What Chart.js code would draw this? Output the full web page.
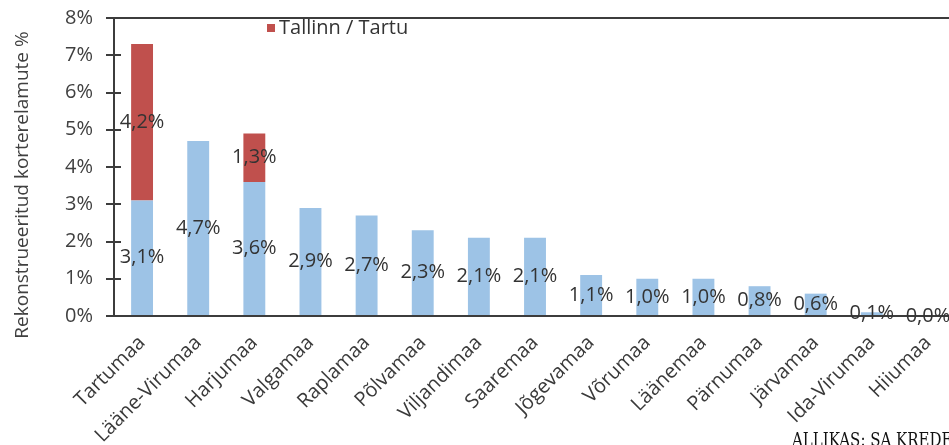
<!DOCTYPE html>
<html>
<head>
<meta charset="utf-8">
<script src="https://cdn.jsdelivr.net/npm/chart.js@4.4.1/dist/chart.umd.min.js"></script>
<style>
  html, body { margin: 0; padding: 0; background: #fff; overflow: hidden; }
  #wrap { position: relative; width: 949px; height: 445px; overflow: hidden; }
  #myChart { position: absolute; left: 0; top: 0; }
  #source { position: absolute; left: 792px; top: 431px; font: 15px/1 "DejaVu Serif", serif; color: #111;
            white-space: nowrap; transform: scaleY(1.25); transform-origin: 0 0; }
</style>
</head>
<body>
<div id="wrap">
  <canvas id="myChart" width="960" height="445"></canvas>
  <div id="source">ALLIKAS: SA KREDEX</div>
</div>
<script>
const counties = ['Tartumaa', 'Lääne-Virumaa', 'Harjumaa', 'Valgamaa', 'Raplamaa', 'Põlvamaa', 'Viljandimaa',
  'Saaremaa', 'Jõgevamaa', 'Võrumaa', 'Läänemaa', 'Pärnumaa', 'Järvamaa', 'Ida-Virumaa', 'Hiiumaa'];
const countyShare = [3.1, 4.7, 3.6, 2.9, 2.7, 2.3, 2.1, 2.1, 1.1, 1.0, 1.0, 0.8, 0.6, 0.1, 0.0];
const cityShare = [4.2, 0, 1.3, 0, 0, 0, 0, 0, 0, 0, 0, 0, 0, 0, 0];
const yTicks = [0, 1, 2, 3, 4, 5, 6, 7, 8];

const FONT = '"Open Sans", sans-serif';
const AXIS = '#3c3c3c';

const fmt = v => v.toFixed(1).replace('.', ',') + '%';

// frame lines, inner tick marks, legend, y title and value labels
const decorations = {
    id: 'decorations',
    afterDraw(chart) {
        const c = chart.ctx;
        const area = chart.chartArea;
        const yScale = chart.scales.y;
        const right = chart.width;

        c.save();
        c.fillStyle = AXIS;
        // top frame and base line, both poking out left like the ticks
        c.fillRect(area.left - 8, Math.round(area.top) - 1, right - area.left + 8, 2);
        c.fillRect(area.left - 8, Math.round(area.bottom) - 1, right - area.left + 8, 2);
        // the part of each tick inside the plot
        for (const v of yTicks) {
            const py = Math.round(yScale.getPixelForValue(v));
            c.fillRect(area.left, py - 1, 7, 2);
        }

        // legend (city series only)
        const ds = chart.data.datasets[1];
        c.fillStyle = ds.backgroundColor;
        c.fillRect(267, 24, 8, 8);
        c.fillStyle = '#333';
        c.font = '20px ' + FONT;
        c.textAlign = 'left';
        c.textBaseline = 'middle';
        c.fillText(ds.label, 279, 28);

        // y title
        c.save();
        c.translate(23, 185);
        c.rotate(-Math.PI / 2);
        c.textAlign = 'center';
        c.fillStyle = '#404040';
        c.font = '19px ' + FONT;
        c.fillText('Rekonstrueeritud korterelamute %', 0, 0);
        c.restore();

        // value labels
        c.font = '20px ' + FONT;
        c.textAlign = 'center';
        c.fillStyle = '#333';
        chart.data.datasets.forEach((d, i) => {
            chart.getDatasetMeta(i).data.forEach((bar, j) => {
                const v = d.data[j];
                if (i === 1 && !v) return;
                c.fillText(fmt(v), bar.x, (bar.y + bar.base) / 2);
            });
        });
        c.restore();
    }
};

const data = {
    labels: counties,
    datasets: [
        {
            label: 'Maakond',
            data: countyShare,
            backgroundColor: '#9dc3e6',
            barPercentage: 0.39,
            categoryPercentage: 1
        },
        {
            label: 'Tallinn / Tartu',
            data: cityShare,
            backgroundColor: '#c0504d',
            barPercentage: 0.39,
            categoryPercentage: 1
        }
    ]
};

const config = {
    type: 'bar',
    data,
    options: {
        responsive: false,
        animation: false,
        layout: { padding: { top: 18, right: 2, left: 0, bottom: 0 } },
        plugins: {
            legend: { display: false },
            tooltip: { enabled: false }
        },
        scales: {
            x: {
                stacked: true,
                grid: { display: false, drawTicks: false },
                border: { display: false },
                ticks: {
                    minRotation: 45,
                    maxRotation: 45,
                    autoSkip: false,
                    padding: 15,
                    color: '#3a3a3a',
                    font: { family: FONT, size: 20 }
                },
                afterFit(scale) { scale.height = 129; }
            },
            y: {
                stacked: true,
                min: 0,
                max: 8,
                grid: {
                    display: true,
                    drawOnChartArea: false,
                    drawTicks: true,
                    tickLength: 8,
                    color: AXIS,
                    lineWidth: 2
                },
                border: { display: true, color: AXIS, width: 2 },
                ticks: {
                    stepSize: 1,
                    padding: 13,
                    color: '#404040',
                    font: { family: FONT, size: 20 },
                    callback: v => v + '%'
                },
                afterFit(scale) {
                    scale.width = 114;
                    scale.paddingTop = 0;
                    scale.paddingBottom = 0;
                }
            }
        }
    },
    plugins: [decorations]
};

const chart = new Chart(document.getElementById('myChart'), config);
</script>
</body>
</html>
